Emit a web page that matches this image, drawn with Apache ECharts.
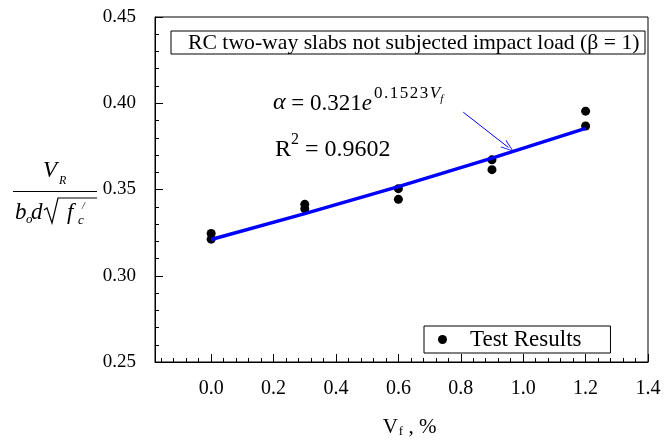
<!DOCTYPE html>
<html>
<head>
<meta charset="utf-8">
<script src="https://cdn.jsdelivr.net/npm/echarts@6/dist/echarts.min.js"></script>
<style>
  html, body { margin: 0; padding: 0; background: #fff; }
  #chart { width: 668px; height: 443px; }
</style>
</head>
<body>
<div id="chart"></div>
<script>
// Measured shear capacity ratio vs. steel fibre volume fraction
const fiberVolume = [0, 0, 0.3, 0.3, 0.6, 0.6, 0.9, 0.9, 1.2, 1.2];
const shearRatio  = [0.3245, 0.3212, 0.3414, 0.3388, 0.3505, 0.3443, 0.3672, 0.3615, 0.3954, 0.3868];

// Exponential fit: alpha = 0.321 e^(0.1523 Vf)
const fitVf    = [0, 0.3, 0.6, 0.9, 1.2];
const fitAlpha = [0.3210, 0.3360, 0.3517, 0.3682, 0.3854];

// Axis tick labels
const xTickValues = [0, 0.2, 0.4, 0.6, 0.8, 1.0, 1.2, 1.4];
const yTickLabels = ['0.25', '0.30', '0.35', '0.40', '0.45'];

// Leader arrow from the equation to the fit line (data coordinates)
const arrowFrom = [0.808, 0.3948];
const arrowTo   = [0.953, 0.3743];

const FONT = '"Liberation Serif", "Times New Roman", serif';

const xMinorTicks = [];
for (let i = -4; i <= 34; i++) {
  if (i % 5 !== 0) xMinorTicks.push(+(i * 0.04).toFixed(2));
}

const chart = echarts.init(document.getElementById('chart'));

const points = fiberVolume.map((v, i) => [v, shearRatio[i]]);
const fitLine = fitVf.map((v, i) => [v, fitAlpha[i]]);

function txt(text, x, y, size, italic, extra) {
  return Object.assign({
    type: 'text',
    z: 100,
    style: {
      text: text, x: x, y: y,
      fontFamily: FONT, fontSize: size,
      fontStyle: italic ? 'italic' : 'normal',
      fill: '#000',
      textAlign: 'left', textVerticalAlign: 'middle'
    }
  }, extra || {});
}

// superscript exponent, one fragment per glyph so it can be spaced out
const supStyle = { fontFamily: FONT, fontSize: 17, color: '#000', lineHeight: 17, verticalAlign: 'top', padding: [0, 1.5, 0, 0] };

chart.setOption({
  animation: false,
  backgroundColor: '#fff',
  grid: {
    left: 155, right: 20, top: 17, bottom: 78,
    show: true, borderColor: '#000', borderWidth: 1
  },
  xAxis: [{
    type: 'value', min: -0.18, max: 1.4,
    axisLine: { onZero: false, lineStyle: { color: '#000', width: 1 } },
    axisTick: { inside: true, length: 8, customValues: xTickValues, lineStyle: { color: '#000' } },
    axisLabel: {
      customValues: xTickValues, margin: 17,
      formatter: v => v.toFixed(1),
      fontFamily: FONT, fontSize: 20, color: '#000'
    },
    splitLine: { show: false },
    name: '{v|V}{s|f}{c| , %}',
    nameLocation: 'middle', nameGap: 52,
    nameTextStyle: {
      padding: [0, 0, 0, 16],
      rich: {
        v: { fontFamily: FONT, fontSize: 21, color: '#000', verticalAlign: 'bottom', lineHeight: 24 },
        s: { fontFamily: FONT, fontSize: 13, color: '#000', verticalAlign: 'bottom', lineHeight: 16, padding: [0, 0, 0, 1] },
        c: { fontFamily: FONT, fontSize: 21, color: '#000', verticalAlign: 'bottom', lineHeight: 24 }
      }
    }
  }, {
    type: 'value', min: -0.18, max: 1.4, position: 'bottom',
    axisLine: { show: false, onZero: false },
    axisTick: { inside: true, length: 4, customValues: xMinorTicks, lineStyle: { color: '#000' } },
    axisLabel: { show: false },
    splitLine: { show: false }
  }],
  yAxis: {
    type: 'value', min: 0.25, max: 0.45, interval: 0.05,
    axisLine: { show: true, onZero: false, lineStyle: { color: '#000', width: 1 } },
    axisTick: { show: true, inside: true, length: 8, lineStyle: { color: '#000' } },
    minorTick: { show: true, splitNumber: 5, length: 4, lineStyle: { color: '#000' } },
    axisLabel: {
      margin: 19,
      formatter: v => yTickLabels[Math.round((v - 0.25) / 0.05)],
      fontFamily: FONT, fontSize: 19, color: '#000'
    },
    splitLine: { show: false }
  },
  legend: {
    data: [{ name: 'Test Results', icon: 'circle' }],
    left: 424, top: 326,
    orient: 'horizontal',
    backgroundColor: '#fff',
    borderColor: '#000', borderWidth: 1, borderRadius: 0,
    padding: [2, 29, 2, 14],
    itemWidth: 9, itemHeight: 9,
    selectedMode: false,
    textStyle: { fontFamily: FONT, fontSize: 23, color: '#000', padding: [0, 0, 0, 18] }
  },
  series: [{
    name: 'Test Results',
    type: 'scatter',
    data: points,
    symbol: 'circle', symbolSize: 9,
    itemStyle: { color: '#000', opacity: 1 },
    z: 2
  }, {
    name: 'fit',
    type: 'line',
    data: fitLine,
    showSymbol: false,
    lineStyle: { color: '#0000ff', width: 3.5 },
    z: 3,
    markLine: {
      silent: true,
      symbol: ['none', 'path://M0,0 L6,12 L5,12 L0,2 L-5,12 L-6,12 Z'],
      symbolSize: [9, 13],
      label: { show: false },
      lineStyle: { color: '#0000ff', width: 1, type: 'solid' },
      data: [[{ coord: arrowFrom }, { coord: arrowTo }]]
    }
  }],
  graphic: [
    // case description box
    {
      type: 'rect', z: 90,
      shape: { x: 171, y: 31, width: 474, height: 23 },
      style: { fill: '#fff', stroke: '#000', lineWidth: 1 }
    },
    txt('RC two-way slabs not subjected impact load (\u03b2 = 1)', 188, 43, 21.7, false),
    // fitted equation
    {
      type: 'text', z: 100,
      style: {
        x: 273, y: 85,
        text: '{a|\u03b1}{m| = 0.321}{e|e}{p|0}{p|.}{p|1}{p|5}{p|2}{p|3}{v|V}{f|f}',
        fontFamily: FONT,
        rich: {
          a: { fontFamily: FONT, fontSize: 24, fontStyle: 'italic', color: '#000', lineHeight: 30, verticalAlign: 'bottom' },
          m: { fontFamily: FONT, fontSize: 23, color: '#000', lineHeight: 30, verticalAlign: 'bottom' },
          e: { fontFamily: FONT, fontSize: 23, fontStyle: 'italic', color: '#000', lineHeight: 30, verticalAlign: 'bottom', padding: [0, 2, 0, 0] },
          p: supStyle,
          v: { fontFamily: FONT, fontSize: 17, fontStyle: 'italic', color: '#000', lineHeight: 17, verticalAlign: 'top' },
          f: { fontFamily: FONT, fontSize: 11, fontStyle: 'italic', color: '#000', lineHeight: 11, verticalAlign: 'top', padding: [9, 0, 0, 0] }
        }
      }
    },
    {
      type: 'text', z: 100,
      style: {
        x: 275, y: 132,
        text: '{r|R}{t|2}{m| = 0.9602}',
        fontFamily: FONT,
        rich: {
          r: { fontFamily: FONT, fontSize: 24, color: '#000', lineHeight: 30, verticalAlign: 'bottom' },
          t: { fontFamily: FONT, fontSize: 16, color: '#000', lineHeight: 16, verticalAlign: 'top' },
          m: { fontFamily: FONT, fontSize: 24, color: '#000', lineHeight: 30, verticalAlign: 'bottom' }
        }
      }
    },
    // y-axis title: V_R / (b_o d sqrt(f'_c))
    txt('V', 43, 171, 23, true),
    txt('R', 59, 181, 12, true),
    { type: 'line', z: 100, shape: { x1: 13, y1: 191.5, x2: 97, y2: 191.5 }, style: { stroke: '#000', lineWidth: 1 } },
    txt('b', 15, 213, 23, true),
    txt('o', 26, 220, 13, true),
    txt('d', 31, 213, 23, true),
    {
      type: 'polyline', z: 100,
      shape: { points: [[44, 210], [47, 208], [52, 223], [58, 198], [97, 198]] },
      style: { stroke: '#000', lineWidth: 1.2, fill: null }
    },
    txt('f', 67, 213, 23, true),
    txt('c', 78, 221, 13, true),
    txt('/', 82, 206, 10, true)
  ]
});
</script>
</body>
</html>
